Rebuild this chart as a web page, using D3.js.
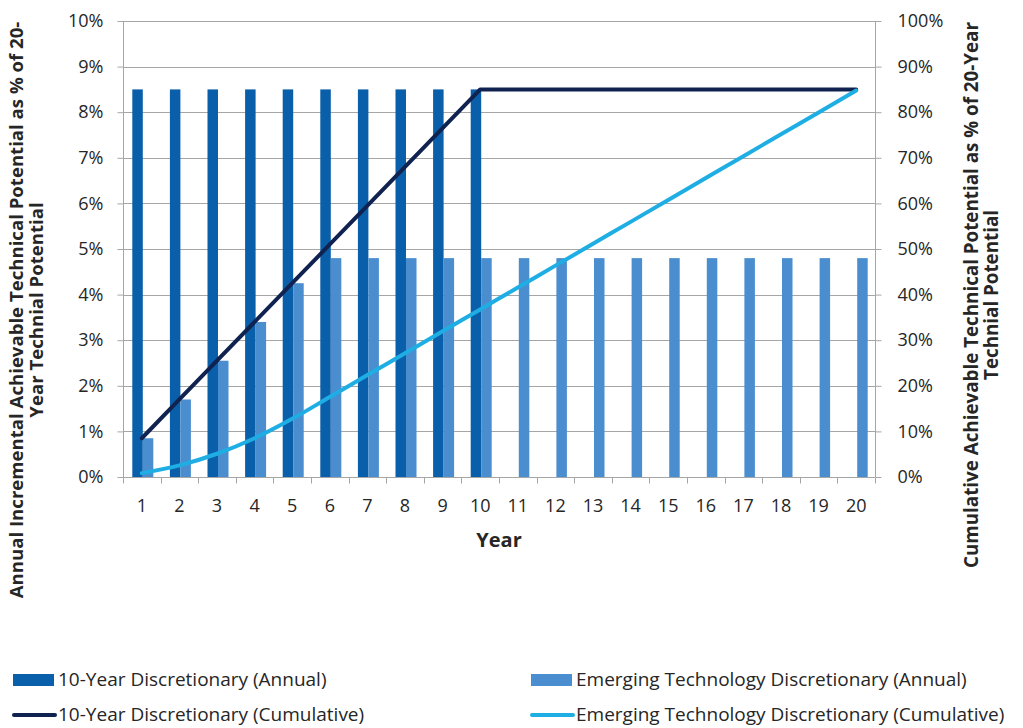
<!DOCTYPE html>
<html>
<head>
<meta charset="utf-8">
<script src="https://cdn.jsdelivr.net/npm/d3@7"></script>
<style>
  body { margin: 0; background: #fff; }
  svg { display: block; font-family: "Open Sans", sans-serif; }
</style>
</head>
<body>
<svg id="chart" width="1023" height="728"></svg>
<script>
// --- datos ---
const years = d3.range(1, 21).map(String);
const annual10 = [8.5, 8.5, 8.5, 8.5, 8.5, 8.5, 8.5, 8.5, 8.5, 8.5, null, null, null, null, null, null, null, null, null, null];
const annualEmerging = [0.85, 1.7, 2.55, 3.4, 4.25, 4.8, 4.8, 4.8, 4.8, 4.8, 4.8, 4.8, 4.8, 4.8, 4.8, 4.8, 4.8, 4.8, 4.8, 4.8];
const cumul10 = [8.5, 17, 25.5, 34, 42.5, 51, 59.5, 68, 76.5, 85, 85, 85, 85, 85, 85, 85, 85, 85, 85, 85];
const cumulEmerging = [0.85, 2.55, 5.1, 8.5, 12.75, 17.55, 22.35, 27.15, 31.95, 36.75, 41.55, 46.35, 51.15, 55.95, 60.75, 65.55, 70.35, 75.15, 79.95, 84.75];
const leftTicks = d3.range(0, 11);       // 0% .. 10%
const rightTicks = d3.range(0, 101, 10); // 0% .. 100%

const colors = {
  bar10: '#0a5fab',
  barEm: '#4a8ed0',
  line10: '#10224f',
  lineEm: '#1eaee4',
  grid: '#a6a6a6',
  text: '#262626'
};

const svg = d3.select('#chart');
const m = { left: 123, right: 875, top: 21, bottom: 477 };

const x = d3.scaleBand().domain(years).range([m.left, m.right]);
const xs = d3.scaleBand().domain(['a', 'b']).range([0, x.bandwidth()]).paddingOuter(0.79);
const yL = d3.scaleLinear().domain([0, 10]).range([m.bottom, m.top]);
const yR = d3.scaleLinear().domain([0, 100]).range([m.bottom, m.top]);

// --- rejilla ---
svg.append('g')
  .selectAll('line')
  .data(leftTicks)
  .enter().append('line')
  .attr('x1', m.left).attr('x2', m.right)
  .attr('y1', d => Math.round(yL(d)) + 0.5).attr('y2', d => Math.round(yL(d)) + 0.5)
  .attr('stroke', colors.grid).attr('stroke-width', 1);

// --- ejes ---
const axisL = svg.append('g')
  .attr('transform', `translate(${m.left + 0.5},0)`)
  .call(d3.axisLeft(yL).tickValues(leftTicks).tickFormat(d => d + '%').tickSize(6).tickPadding(14));
const axisR = svg.append('g')
  .attr('transform', `translate(${m.right + 0.5},0)`)
  .call(d3.axisRight(yR).tickValues(rightTicks).tickFormat(d => d + '%').tickSize(6).tickPadding(16));
const axisX = svg.append('g')
  .attr('transform', `translate(0,${m.bottom + 0.5})`)
  .call(d3.axisBottom(x).tickSize(0).tickPadding(22));

[axisL, axisR, axisX].forEach(a => {
  a.select('.domain').attr('stroke', colors.grid);
  a.selectAll('.tick line').attr('stroke', colors.grid);
  a.selectAll('.tick text').attr('fill', colors.text).style('font-size', '18px').style('font-family', '"Open Sans", sans-serif');
});
axisL.select('.domain').attr('d', `M0,${m.top}V${m.bottom}`);
axisR.select('.domain').attr('d', `M0,${m.top}V${m.bottom}`);
axisX.select('.domain').attr('d', `M${m.left},0H${m.right}`);

// marcas del eje X entre categorías
axisX.append('g')
  .selectAll('line')
  .data(years.map(y => x(y)).concat([m.right]))
  .enter().append('line')
  .attr('x1', d => Math.round(d) + 0.5).attr('x2', d => Math.round(d) + 0.5)
  .attr('y1', 0).attr('y2', 6)
  .attr('stroke', colors.grid);

// --- barras ---
const plot = svg.append('g');
plot.selectAll('.bar10')
  .data(years.map((y, i) => ({ y, v: annual10[i] })).filter(d => d.v != null))
  .enter().append('rect')
  .attr('x', d => x(d.y) + xs('a') + 1)
  .attr('width', xs.bandwidth())
  .attr('y', d => yL(d.v))
  .attr('height', d => yL(0) - yL(d.v))
  .attr('fill', colors.bar10);

plot.selectAll('.barEm')
  .data(years.map((y, i) => ({ y, v: annualEmerging[i] })))
  .enter().append('rect')
  .attr('x', d => x(d.y) + xs('b') + 1)
  .attr('width', xs.bandwidth())
  .attr('y', d => yL(d.v))
  .attr('height', d => yL(0) - yL(d.v))
  .attr('fill', colors.barEm);

// --- líneas acumuladas ---
const cx = y => x(y) + x.bandwidth() / 2;
const line = d3.line().x(d => cx(d.y)).y(d => yR(d.v));

plot.append('path')
  .datum(years.map((y, i) => ({ y, v: cumul10[i] })))
  .attr('d', line)
  .attr('fill', 'none').attr('stroke', colors.line10).attr('stroke-width', 4)
  .attr('stroke-linejoin', 'round').attr('stroke-linecap', 'round');

plot.append('path')
  .datum(years.map((y, i) => ({ y, v: cumulEmerging[i] })))
  .attr('d', line.curve(d3.curveMonotoneX))
  .attr('fill', 'none').attr('stroke', colors.lineEm).attr('stroke-width', 4)
  .attr('stroke-linejoin', 'round').attr('stroke-linecap', 'round');

// --- títulos de ejes ---
svg.append('text')
  .attr('x', (m.left + m.right) / 2).attr('y', 547)
  .attr('text-anchor', 'middle')
  .style('font-size', '20px').style('font-weight', 'bold').attr('fill', colors.text)
  .text('Year');

const leftTitle = svg.append('text')
  .attr('transform', 'translate(23,310) rotate(-90)')
  .attr('text-anchor', 'middle')
  .style('font-size', '18.6px').style('font-weight', 'bold').attr('fill', colors.text);
leftTitle.append('tspan').attr('x', 0).attr('y', 0).text('Annual Incremental Achievable Technical Potential as % of 20-');
leftTitle.append('tspan').attr('x', 0).attr('y', 20).text('Year Technial Potential');

const rightTitle = svg.append('text')
  .attr('transform', 'translate(978,295) rotate(-90)')
  .attr('text-anchor', 'middle')
  .style('font-size', '18.8px').style('font-weight', 'bold').attr('fill', colors.text);
rightTitle.append('tspan').attr('x', 0).attr('y', 0).text('Cumulative Achievable Technical Potential as % of 20-Year');
rightTitle.append('tspan').attr('x', 0).attr('y', 20).text('Technial Potential');

// --- leyenda ---
const legendItems = [
  { label: '10-Year Discretionary (Annual)', color: colors.bar10, type: 'bar', x: 13, y: 680 },
  { label: 'Emerging Technology Discretionary (Annual)', color: colors.barEm, type: 'bar', x: 531, y: 680 },
  { label: '10-Year Discretionary (Cumulative)', color: colors.line10, type: 'line', x: 13, y: 715 },
  { label: 'Emerging Technology Discretionary (Cumulative)', color: colors.lineEm, type: 'line', x: 531, y: 715 }
];
const legend = svg.append('g')
  .selectAll('g')
  .data(legendItems)
  .enter().append('g')
  .attr('transform', d => `translate(${d.x},${d.y})`);

legend.filter(d => d.type === 'bar').append('rect')
  .attr('x', 0).attr('y', -6).attr('width', 41).attr('height', 12)
  .attr('fill', d => d.color);
legend.filter(d => d.type === 'line').append('line')
  .attr('x1', 1).attr('x2', 42).attr('y1', 0).attr('y2', 0)
  .attr('stroke', d => d.color).attr('stroke-width', 4).attr('stroke-linecap', 'round');
legend.append('text')
  .attr('x', 45).attr('dy', '0.33em')
  .style('font-size', '19px').attr('fill', colors.text)
  .text(d => d.label);
</script>
</body>
</html>
